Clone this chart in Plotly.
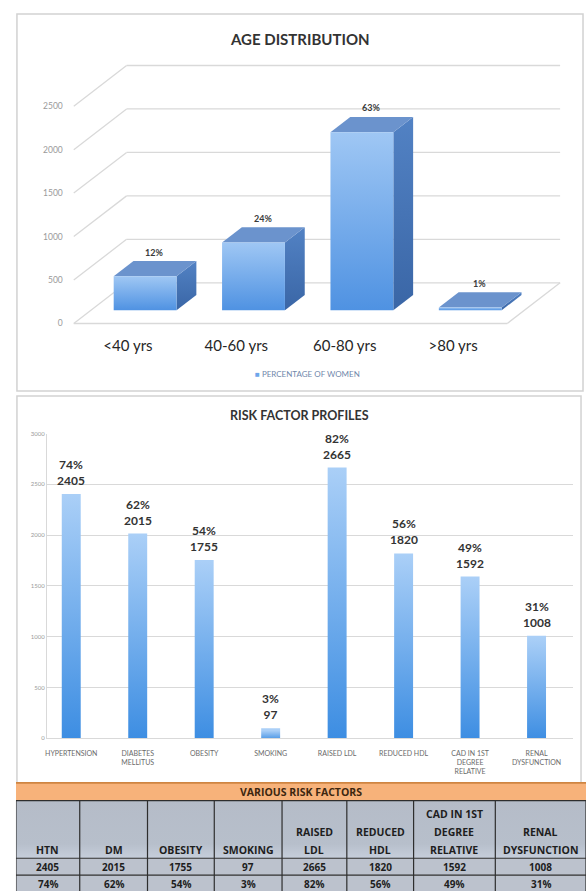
import plotly.graph_objects as go

W, H = 586, 894

# ---------------- data ----------------
age_groups = ["<40 yrs", "40-60 yrs", "60-80 yrs", ">80 yrs"]
age_women = [390, 780, 2048, 33]
age_pct = ["12%", "24%", "63%", "1%"]
age_ticks = [0, 500, 1000, 1500, 2000, 2500]

risk_labels = ["HYPERTENSION", "DIABETES<br>MELLITUS", "OBESITY", "SMOKING",
               "RAISED LDL", "REDUCED HDL", "CAD IN 1ST<br>DEGREE<br>RELATIVE",
               "RENAL<br>DYSFUNCTION"]
risk_counts = [2405, 2015, 1755, 97, 2665, 1820, 1592, 1008]
risk_pct = ["74%", "62%", "54%", "3%", "82%", "56%", "49%", "31%"]
risk_ticks = [0, 500, 1000, 1500, 2000, 2500, 3000]

table_title = "VARIOUS RISK FACTORS"
table_headers = ["HTN", "DM", "OBESITY", "SMOKING", "RAISED<br>LDL", "REDUCED<br>HDL",
                 "CAD IN 1ST<br>DEGREE<br>RELATIVE", "RENAL<br>DYSFUNCTION"]
table_counts = ["2405", "2015", "1755", "97", "2665", "1820", "1592", "1008"]
table_pct = ["74%", "62%", "54%", "3%", "82%", "56%", "49%", "31%"]


def px_x(p):
    return p / W


def px_y(p):
    return 1 - p / H


fig = go.Figure()
annotations = []
shapes = []

# ---------------- top chart: 3D-look bars (oblique projection) ----------------
DX = 53 / 108.75      # full floor depth, in category units
DY = 41 / 0.0876      # full floor depth, in value units
d0, d1 = 0.325, 0.70  # bar depth span
bw = 0.58
n = len(age_groups)

gx, gy = [], []
for v in age_ticks:
    gx += [-0.5 + DX, n - 0.5 + DX, None, -0.5, -0.5 + DX, None]
    gy += [v + DY, v + DY, None, v, v + DY, None]
gx += [-0.5, n - 0.5, None, n - 0.5, n - 0.5 + DX, None]
gy += [0, 0, None, 0, DY, None]
fig.add_trace(go.Scatter(x=gx, y=gy, mode="lines", line=dict(color="#d9d9d9", width=1.3),
                         hoverinfo="skip", showlegend=False, xaxis="x", yaxis="y"))

for i, v in enumerate(age_women):
    xl, xr = i - bw / 2, i + bw / 2
    fig.add_trace(go.Scatter(
        x=[xr + d0 * DX, xr + d1 * DX, xr + d1 * DX, xr + d0 * DX, xr + d0 * DX],
        y=[d0 * DY, d1 * DY, v + d1 * DY, v + d0 * DY, d0 * DY],
        fill="toself", mode="lines", line=dict(width=0),
        fillgradient=dict(type="vertical", colorscale=[[0, "#3a66a6"], [1, "#5282c4"]]),
        hoverinfo="skip", showlegend=False, xaxis="x", yaxis="y"))
    fig.add_trace(go.Scatter(
        x=[xl + d0 * DX, xr + d0 * DX, xr + d1 * DX, xl + d1 * DX, xl + d0 * DX],
        y=[v + d0 * DY, v + d0 * DY, v + d1 * DY, v + d1 * DY, v + d0 * DY],
        fill="toself", mode="lines", line=dict(width=0), fillcolor="#6b93cd",
        hoverinfo="skip", showlegend=False, xaxis="x", yaxis="y"))
    fig.add_trace(go.Scatter(
        x=[xl + d0 * DX, xr + d0 * DX, xr + d0 * DX, xl + d0 * DX, xl + d0 * DX],
        y=[d0 * DY, d0 * DY, v + d0 * DY, v + d0 * DY, d0 * DY],
        fill="toself", mode="lines", line=dict(width=0),
        fillgradient=dict(type="vertical", colorscale=[[0, "#4f92e2"], [1, "#9fc7f4"]]),
        hoverinfo="skip", showlegend=False, xaxis="x", yaxis="y"))

for i, (v, p) in enumerate(zip(age_women, age_pct)):
    annotations.append(dict(x=i + 0.5 * DX, y=v + d1 * DY, xref="x", yref="y", text="<b>" + p + "</b>",
                            showarrow=False, yshift=9, font=dict(size=9, color="#3a3a3a")))

# ---------------- middle chart: gradient bars ----------------
rbw = 0.285
for i, v in enumerate(risk_counts):
    fig.add_trace(go.Scatter(
        x=[i - rbw / 2, i + rbw / 2, i + rbw / 2, i - rbw / 2, i - rbw / 2],
        y=[0, 0, v, v, 0], fill="toself", mode="lines", line=dict(width=0),
        fillgradient=dict(type="vertical", colorscale=[[0, "#3c8de2"], [1, "#aacff7"]],
                          start=0, stop=v),
        hoverinfo="skip", showlegend=False, xaxis="x2", yaxis="y2"))
    annotations.append(dict(x=i, y=v, xref="x2", yref="y2",
                            text="<b>" + risk_pct[i] + "<br>" + str(v) + "</b>",
                            showarrow=False, yanchor="bottom", yshift=4,
                            font=dict(size=12, color="#333333")))

# ---------------- table (drawn on its own axes; y grows downward) ----------------
col_w = [64, 68, 67, 68, 65, 67, 82, 91]
edges = [0]
for w in col_w:
    edges.append(edges[-1] + w)
TW = edges[-1]
band = (2, 20)
head = (20, 78)
rows = [(78, 95), (95, 112)]
tfont = "Open Sans"

def rect_trace(x0, x1, y0, y1, color=None, grad=None):
    kw = dict(x=[x0, x1, x1, x0, x0], y=[y0, y0, y1, y1, y0], fill="toself", mode="lines",
              line=dict(width=0), hoverinfo="skip", showlegend=False, xaxis="x3", yaxis="y3")
    if grad:
        kw["fillgradient"] = dict(type="vertical", colorscale=grad)
    else:
        kw["fillcolor"] = color
    return go.Scatter(**kw)

fig.add_trace(rect_trace(0, TW, band[0], band[1], color="#f7b27a"))
fig.add_trace(rect_trace(0, TW, head[0], head[1], grad=[[0, "#c6cedb"], [0.25, "#b7bfcb"], [1, "#b5bcc8"]]))
for r in rows:
    fig.add_trace(rect_trace(0, TW, r[0], r[1], color="#bcc2cd"))

lx, ly = [], []
for e in edges:
    lx += [e, e, None]
    ly += [head[0], rows[-1][1], None]
for yv in [head[0], head[1], rows[0][1]]:
    lx += [0, TW, None]
    ly += [yv, yv, None]
fig.add_trace(go.Scatter(x=lx, y=ly, mode="lines", line=dict(color="#2e2e2e", width=1.2),
                         hoverinfo="skip", showlegend=False, xaxis="x3", yaxis="y3"))
fig.add_trace(go.Scatter(x=[0, TW], y=[band[0], band[0]], mode="lines",
                         line=dict(color="#cf8542", width=1.6),
                         hoverinfo="skip", showlegend=False, xaxis="x3", yaxis="y3"))

annotations.append(dict(x=286, y=(band[0] + band[1]) / 2, xref="x3", yref="y3",
                        text="<b>" + table_title + "</b>", showarrow=False,
                        xanchor="center", yanchor="middle",
                        font=dict(family=tfont, size=10.5, color="#3d2710")))
for j, h in enumerate(table_headers):
    cx = (edges[j] + edges[j + 1]) / 2
    lines = h.split("<br>")
    for k, t in enumerate(reversed(lines)):
        annotations.append(dict(x=cx, y=head[1] - 8 - 18.5 * k, xref="x3", yref="y3",
                                text="<b>" + t + "</b>", showarrow=False,
                                xanchor="center", yanchor="middle",
                                font=dict(family=tfont, size=10.5, color="#1e1e1e")))
    for r, val in zip(rows, [table_counts[j], table_pct[j]]):
        annotations.append(dict(x=cx, y=(r[0] + r[1]) / 2 + 0.5, xref="x3", yref="y3",
                                text="<b>" + val + "</b>", showarrow=False,
                                xanchor="center", yanchor="middle",
                                font=dict(family=tfont, size=10, color="#1e1e1e")))

# ---------------- titles, legend, panel frames ----------------
annotations += [
    dict(x=px_x(299), y=px_y(35), xref="paper", yref="paper", text="<b>AGE DISTRIBUTION</b>",
         showarrow=False, xanchor="center", yanchor="middle", font=dict(size=15, color="#333333")),
    dict(x=px_x(307), y=px_y(373), xref="paper", yref="paper",
         text='<span style="color:#6ea6ea">■</span> PERCENTAGE OF WOMEN',
         showarrow=False, xanchor="center", yanchor="middle", font=dict(size=8, color="#7088ab")),
    dict(x=px_x(299), y=px_y(415), xref="paper", yref="paper", text="<b>RISK FACTOR PROFILES</b>",
         showarrow=False, xanchor="center", yanchor="middle", font=dict(size=12.5, color="#333333")),
]

shapes += [
    dict(type="rect", xref="paper", yref="paper", x0=px_x(15), x1=px_x(583), y0=px_y(390), y1=px_y(10),
         line=dict(color="#d2d2d2", width=1.5), layer="below"),
    dict(type="rect", xref="paper", yref="paper", x0=px_x(15), x1=px_x(581), y0=px_y(786), y1=px_y(395),
         line=dict(color="#d2d2d2", width=1.5), layer="below"),
]

fig.update_layout(
    width=W, height=H, margin=dict(l=0, r=0, t=0, b=0), autosize=False,
    paper_bgcolor="white", plot_bgcolor="rgba(0,0,0,0)",
    font=dict(family="Lato", color="#333333"),
    showlegend=False, annotations=annotations, shapes=shapes,
    xaxis=dict(domain=[px_x(62), px_x(575)], range=[-0.592, 4.125], anchor="y",
               tickmode="array", tickvals=list(range(n)), ticktext=age_groups,
               showgrid=False, zeroline=False, showline=False, ticks="", ticklabelstandoff=4,
               tickfont=dict(size=15, color="#262626"), fixedrange=True),
    yaxis=dict(domain=[px_y(330), px_y(50)], range=[-91.3, 3105], anchor="x",
               tickmode="array", tickvals=age_ticks, showgrid=False, zeroline=False,
               showline=False, ticks="", tickfont=dict(size=8.5, color="#9a9a9a"), fixedrange=True),
    xaxis2=dict(domain=[px_x(45), px_x(573)], range=[-0.367, 7.549], anchor="y2",
                tickmode="array", tickvals=list(range(len(risk_labels))), ticktext=risk_labels,
                showgrid=False, zeroline=False, showline=True, linecolor="#d9d9d9", ticks="",
                ticklabelstandoff=8, tickfont=dict(size=7, color="#6a6a6a"), fixedrange=True),
    yaxis2=dict(domain=[px_y(740), px_y(433)], range=[0, 3000], anchor="x2",
                tickmode="array", tickvals=risk_ticks, showgrid=True, gridcolor="#d9d9d9",
                zeroline=False, showline=True, linecolor="#d9d9d9", ticks="",
                tickfont=dict(size=6, color="#9a9a9a"), fixedrange=True),
    xaxis3=dict(domain=[px_x(14), 1], range=[0, W - 14], anchor="y3", visible=False, fixedrange=True),
    yaxis3=dict(domain=[0, px_y(783)], range=[H - 783, 0], anchor="x3", visible=False, fixedrange=True),
)

fig.write_html("out.html")
